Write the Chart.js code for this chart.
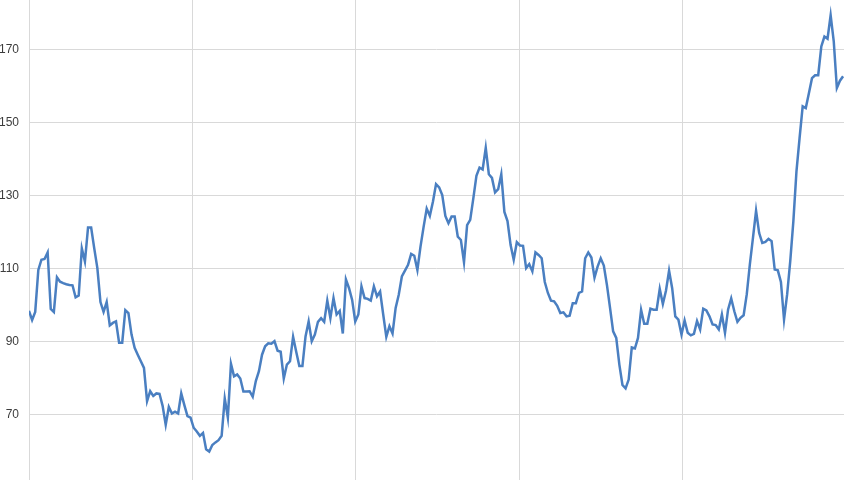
<!DOCTYPE html>
<html>
<head>
<meta charset="utf-8">
<title>Weekly series</title>
<script src="https://cdn.jsdelivr.net/npm/chart.js@4.4.0/dist/chart.umd.min.js"></script>
<style>
  body { margin: 0; background: #fff; }
  #chartContainer { width: 850px; height: 480px; }
</style>
</head>
<body>
<div id="chartContainer"></div>
<script>
// weekly values, left to right
const prices = [
  98.5, 96.0, 98.2, 109.7, 112.5, 112.7, 114.5, 99.0, 98.2, 107.7,
  106.5, 106.1, 105.8, 105.6, 105.5, 102.2, 102.7, 115.6, 112.0, 121.3,
  121.3, 115.6, 110.2, 100.9, 98.2, 100.9, 94.5, 95.2, 95.6, 89.8,
  89.8, 98.7, 97.9, 92.0, 88.4, 86.5, 84.7, 82.9, 73.8, 76.5,
  75.2, 75.9, 75.8, 72.5, 67.3, 72.2, 70.4, 70.9, 70.4, 75.9,
  72.7, 69.7, 69.3,
  66.5, 65.5, 64.3, 65.1, 60.6, 60.0, 61.8, 62.5, 63.1, 64.3,
  74.5, 69.3, 84.0, 80.6, 81.1, 80.0, 76.4, 76.4, 76.5, 75.0,
  79.3, 82.0, 86.5, 88.8, 89.6, 89.5, 90.2, 87.6, 87.3, 80.0,
  83.8, 84.7, 91.4, 87.3, 83.4, 83.4, 91.5, 95.6, 90.2, 92.0,
  95.5, 96.5, 95.5, 101.3, 96.5, 102.0, 97.5, 98.5, 92.3, 107.1,
  104.7, 101.5,
  95.6, 97.5, 105.2, 102.0, 101.8, 101.3, 105.2, 102.5, 103.8, 97.5,
  91.4, 94.3, 92.3, 99.3, 102.9, 107.9, 109.5, 111.1, 114.1, 113.6,
  109.7, 116.1, 121.5, 126.5, 124.5, 128.4, 133.2, 132.3, 130.2, 124.5,
  122.5, 124.3, 124.3, 118.8, 117.9, 111.8, 122.0, 123.4, 129.3, 135.5,
  137.7, 137.2, 143.1, 135.9, 134.9, 130.9, 131.8, 135.9, 125.6, 123.1,
  116.5, 112.5, 117.3,
  116.4, 116.3, 110.2, 111.3, 109.3, 114.5, 113.8, 112.9, 106.4, 103.4,
  101.3, 101.1, 99.9, 97.9, 98.1, 97.0, 97.2, 100.6, 100.6, 103.4,
  103.8, 112.9, 114.5, 113.1, 107.6, 110.6, 112.9, 110.9, 105.6, 99.3,
  92.9, 91.1, 83.8, 78.2, 77.3, 79.7, 88.5, 88.2, 91.1, 98.8,
  95.0, 95.0, 99.1, 98.8, 98.8, 104.5, 100.4, 104.0, 109.5, 104.7,
  97.0, 96.1, 92.0,
  95.9, 92.5, 91.8, 92.2, 95.7, 93.4, 99.1, 98.6, 97.0, 94.8,
  94.6, 93.4, 97.5, 92.5, 98.9, 101.9, 98.4, 95.5, 96.6, 97.3,
  103.0, 111.2, 118.5, 125.9, 119.8, 117.1, 117.4, 118.2, 117.6, 109.8,
  109.6, 106.4, 96.1, 103.0, 112.1, 123.0, 136.7, 145.8, 154.5, 154.0,
  158.1, 162.2, 163.0, 163.0, 170.9, 173.6, 173.0, 179.4, 172.3, 159.5,
  161.5, 162.7
];
const weeks = prices.map((p, i) => i);

// tick labels on the value axis
const yTicks = [70, 90, 110, 130, 150, 170];
// vertical grid lines, one every ~52.6 weeks
const xGridWeeks = [0, 52.6, 105.2, 157.8, 210.4];

document.addEventListener('DOMContentLoaded', function () {

  var canvas = document.createElement('canvas');
  canvas.width = 850;
  canvas.height = 480;
  document.getElementById('chartContainer').appendChild(canvas);

  var ctx = canvas.getContext('2d');
  var myChart = new Chart(ctx, {
    type: 'line',
    data: {
      datasets: [{
        data: weeks.map((w, i) => ({ x: w, y: prices[i] })),
        borderColor: '#4a7fc1',
        borderWidth: 2.5,
        pointRadius: 0,
        tension: 0,
        fill: false
      }]
    },
    options: {
      responsive: false,
      animation: false,
      layout: { padding: { left: 0, right: 6, top: 0, bottom: 0 } },
      plugins: {
        legend: { display: false },
        tooltip: { enabled: false }
      },
      scales: {
        x: {
          type: 'linear',
          min: 0,
          max: 262.3,
          ticks: { display: false },
          grid: { color: '#d9d9d9', drawTicks: false },
          border: { display: false },
          afterBuildTicks: function (s) {
            s.ticks = xGridWeeks.map(v => ({ value: v }));
          },
          afterFit: function (s) {
            s.height = 0;
            s.paddingLeft = 0; s.paddingRight = 0;
          }
        },
        y: {
          min: 52.2,
          max: 183.6,
          ticks: {
            padding: 10,
            color: '#3c3c3c',
            font: { family: "'Liberation Sans', Arial, sans-serif", size: 12 }
          },
          grid: { color: '#d9d9d9', drawTicks: false },
          border: { display: false },
          afterBuildTicks: function (s) {
            s.ticks = yTicks.map(v => ({ value: v }));
          },
          afterFit: function (s) {
            s.width = 29;
            s.paddingTop = 0; s.paddingBottom = 0;
          }
        }
      }
    }
  });
});
</script>
</body>
</html>
